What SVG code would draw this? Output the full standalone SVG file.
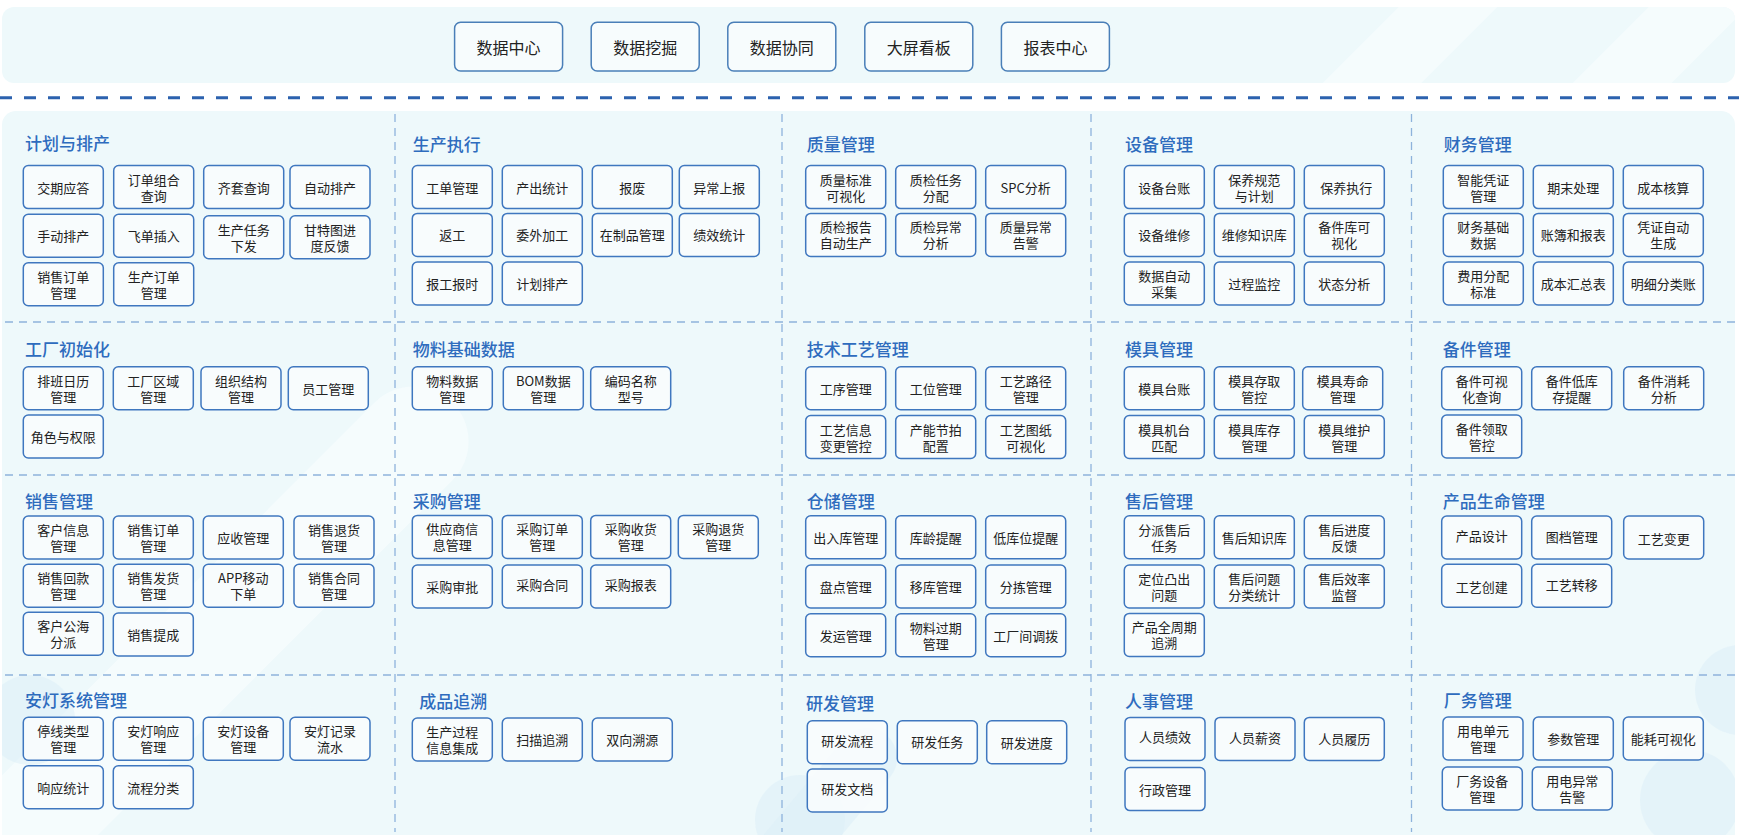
<svg xmlns="http://www.w3.org/2000/svg" width="1739" height="835" viewBox="0 0 1739 835">
<defs>
<style>
.bg{fill:#ffffff}
.panel{fill:#eef9fb}
.deco{fill:#f7fcfd;opacity:.75}
.deco2{fill:#ddeef7;opacity:.55}
.sep{stroke:#2c62ae;stroke-width:3;stroke-dasharray:12 12;fill:none}
.div{stroke:#8eb3dc;stroke-width:1.3;stroke-dasharray:8 6;fill:none}
.bx{fill:#f8fcfd;fill-opacity:.9;stroke:#3f77bf;stroke-width:1.5}
.tb{fill:#f7fcfd;stroke:#4a7fb8;stroke-width:1.5}
.t{font-family:"Noto Sans CJK SC","Noto Sans",sans-serif;font-size:13px;fill:#222;text-anchor:middle;dominant-baseline:central}
.tt{font-family:"Noto Sans CJK SC","Noto Sans",sans-serif;font-size:16px;fill:#222;text-anchor:middle;dominant-baseline:central}
.h{font-family:"Noto Sans CJK SC","Noto Sans",sans-serif;font-size:17px;font-weight:500;fill:#2e6cbe;dominant-baseline:central}
</style>
<clipPath id="cpTop"><rect x="2" y="7" width="1733" height="76" rx="12"/></clipPath>
<clipPath id="cpMain"><rect x="2" y="111" width="1733" height="740" rx="14"/></clipPath>
</defs>
<rect class="bg" x="0" y="0" width="1739" height="835"/>

<g id="background">
<rect class="panel" x="2" y="7" width="1733" height="76" rx="12"/>
<g clip-path="url(#cpTop)">
<rect class="deco" x="1390" y="-120" width="70" height="300" rx="35" transform="rotate(45 1425 30)"/>
<rect class="deco" x="1640" y="-120" width="70" height="300" rx="35" transform="rotate(45 1675 30)"/>
</g>
<rect class="panel" x="2" y="111" width="1733" height="740" rx="14"/>
<g clip-path="url(#cpMain)">
<rect class="deco" x="150" y="300" width="110" height="700" rx="55" transform="rotate(45 205 650)"/>
<circle class="deco2" cx="30" cy="720" r="45"/>
<circle class="deco2" cx="800" cy="820" r="45"/>
<rect class="deco2" x="760" y="700" width="60" height="300" rx="30" transform="rotate(40 790 850)"/>
<circle class="deco2" cx="1740" cy="690" r="45"/>
<circle class="deco2" cx="1690" cy="800" r="50"/>
</g>
</g>

<g id="separators">
<line class="sep" x1="0" y1="97.7" x2="1739" y2="97.7"/>
<line class="div" x1="395" y1="114" x2="395" y2="832"/>
<line class="div" x1="782" y1="114" x2="782" y2="832"/>
<line class="div" x1="1091" y1="114" x2="1091" y2="832"/>
<line class="div" x1="1411.5" y1="114" x2="1411.5" y2="832"/>
<line class="div" x1="5" y1="322" x2="1735" y2="322"/>
<line class="div" x1="5" y1="475" x2="1735" y2="475"/>
<line class="div" x1="5" y1="675" x2="1735" y2="675"/>
</g>

<g id="connectors"></g>

<g id="top-layer">
<g id="top-1"><rect class="tb" x="454.6" y="22.3" width="108" height="48.7" rx="6"/><text class="tt" x="508.6" y="46.6">数据中心</text></g>
<g id="top-2"><rect class="tb" x="591.2" y="22.3" width="108" height="48.7" rx="6"/><text class="tt" x="645.2" y="46.6">数据挖掘</text></g>
<g id="top-3"><rect class="tb" x="727.8" y="22.3" width="108" height="48.7" rx="6"/><text class="tt" x="781.8" y="46.6">数据协同</text></g>
<g id="top-4"><rect class="tb" x="864.8" y="22.3" width="108" height="48.7" rx="6"/><text class="tt" x="918.8" y="46.6">大屏看板</text></g>
<g id="top-5"><rect class="tb" x="1001.4" y="22.3" width="108" height="48.7" rx="6"/><text class="tt" x="1055.4" y="46.6">报表中心</text></g>
</g>

<!-- Section 1 -->
<g id="sec-plan">
<text class="h" x="25" y="142.5">计划与排产</text>
<g id="plan-1"><rect class="bx" x="23.3" y="165.6" width="80" height="43" rx="5"/><text class="t" x="63.3" y="187.1">交期应答</text></g>
<g id="plan-2"><rect class="bx" x="113.7" y="165.6" width="80" height="43" rx="5"/><text class="t" x="153.7" y="179.1">订单组合</text><text class="t" x="153.7" y="195.1">查询</text></g>
<g id="plan-3"><rect class="bx" x="203.7" y="165.6" width="80" height="43" rx="5"/><text class="t" x="243.7" y="187.1">齐套查询</text></g>
<g id="plan-4"><rect class="bx" x="290" y="165.6" width="80" height="43" rx="5"/><text class="t" x="330" y="187.1">自动排产</text></g>
<g id="plan-5"><rect class="bx" x="23.3" y="214.3" width="80" height="43" rx="5"/><text class="t" x="63.3" y="235.8">手动排产</text></g>
<g id="plan-6"><rect class="bx" x="113.7" y="214.3" width="80" height="43" rx="5"/><text class="t" x="153.7" y="235.8">飞单插入</text></g>
<g id="plan-7"><rect class="bx" x="203.7" y="215.7" width="80" height="43" rx="5"/><text class="t" x="243.7" y="229.2">生产任务</text><text class="t" x="243.7" y="245.2">下发</text></g>
<g id="plan-8"><rect class="bx" x="290" y="215.7" width="80" height="43" rx="5"/><text class="t" x="330" y="229.2">甘特图进</text><text class="t" x="330" y="245.2">度反馈</text></g>
<g id="plan-9"><rect class="bx" x="23.3" y="262.7" width="80" height="43" rx="5"/><text class="t" x="63.3" y="276.2">销售订单</text><text class="t" x="63.3" y="292.2">管理</text></g>
<g id="plan-10"><rect class="bx" x="113.7" y="262.7" width="80" height="43" rx="5"/><text class="t" x="153.7" y="276.2">生产订单</text><text class="t" x="153.7" y="292.2">管理</text></g>
</g>

<g id="sec-exec">
<text class="h" x="412.7" y="143">生产执行</text>
<g id="exec-1"><rect class="bx" x="412.3" y="165.6" width="80" height="43" rx="5"/><text class="t" x="452.3" y="187.1">工单管理</text></g>
<g id="exec-2"><rect class="bx" x="502.3" y="165.6" width="80" height="43" rx="5"/><text class="t" x="542.3" y="187.1">产出统计</text></g>
<g id="exec-3"><rect class="bx" x="592.3" y="165.6" width="80" height="43" rx="5"/><text class="t" x="632.3" y="187.1">报废</text></g>
<g id="exec-4"><rect class="bx" x="679.3" y="165.6" width="80" height="43" rx="5"/><text class="t" x="719.3" y="187.1">异常上报</text></g>
<g id="exec-5"><rect class="bx" x="412.3" y="213.4" width="80" height="43" rx="5"/><text class="t" x="452.3" y="234.9">返工</text></g>
<g id="exec-6"><rect class="bx" x="502.3" y="213.4" width="80" height="43" rx="5"/><text class="t" x="542.3" y="234.9">委外加工</text></g>
<g id="exec-7"><rect class="bx" x="592.3" y="213.4" width="80" height="43" rx="5"/><text class="t" x="632.3" y="234.9">在制品管理</text></g>
<g id="exec-8"><rect class="bx" x="679.3" y="213.4" width="80" height="43" rx="5"/><text class="t" x="719.3" y="234.9">绩效统计</text></g>
<g id="exec-9"><rect class="bx" x="412.3" y="262" width="80" height="43" rx="5"/><text class="t" x="452.3" y="283.5">报工报时</text></g>
<g id="exec-10"><rect class="bx" x="502.3" y="262" width="80" height="43" rx="5"/><text class="t" x="542.3" y="283.5">计划排产</text></g>
</g>

<g id="sec-quality">
<text class="h" x="806.7" y="143">质量管理</text>
<g id="qa-1"><rect class="bx" x="805.7" y="165.6" width="80" height="43" rx="5"/><text class="t" x="845.7" y="179.1">质量标准</text><text class="t" x="845.7" y="195.1">可视化</text></g>
<g id="qa-2"><rect class="bx" x="895.7" y="165.6" width="80" height="43" rx="5"/><text class="t" x="935.7" y="179.1">质检任务</text><text class="t" x="935.7" y="195.1">分配</text></g>
<g id="qa-3"><rect class="bx" x="985.7" y="165.6" width="80" height="43" rx="5"/><text class="t" x="1025.7" y="187.1">SPC分析</text></g>
<g id="qa-4"><rect class="bx" x="805.7" y="213.4" width="80" height="43" rx="5"/><text class="t" x="845.7" y="226.9">质检报告</text><text class="t" x="845.7" y="242.9">自动生产</text></g>
<g id="qa-5"><rect class="bx" x="895.7" y="213.4" width="80" height="43" rx="5"/><text class="t" x="935.7" y="226.9">质检异常</text><text class="t" x="935.7" y="242.9">分析</text></g>
<g id="qa-6"><rect class="bx" x="985.7" y="213.4" width="80" height="43" rx="5"/><text class="t" x="1025.7" y="226.9">质量异常</text><text class="t" x="1025.7" y="242.9">告警</text></g>
</g>

<g id="sec-equip">
<text class="h" x="1125" y="143">设备管理</text>
<g id="eq-1"><rect class="bx" x="1124.3" y="165.6" width="80" height="43" rx="5"/><text class="t" x="1164.3" y="187.1">设备台账</text></g>
<g id="eq-2"><rect class="bx" x="1214.3" y="165.6" width="80" height="43" rx="5"/><text class="t" x="1254.3" y="179.1">保养规范</text><text class="t" x="1254.3" y="195.1">与计划</text></g>
<g id="eq-3"><rect class="bx" x="1304.3" y="165.6" width="80" height="43" rx="5"/><text class="t" x="1346.3" y="187.1">保养执行</text></g>
<g id="eq-4"><rect class="bx" x="1124.3" y="213.4" width="80" height="43" rx="5"/><text class="t" x="1164.3" y="234.9">设备维修</text></g>
<g id="eq-5"><rect class="bx" x="1214.3" y="213.4" width="80" height="43" rx="5"/><text class="t" x="1254.3" y="234.9">维修知识库</text></g>
<g id="eq-6"><rect class="bx" x="1304.3" y="213.4" width="80" height="43" rx="5"/><text class="t" x="1344.3" y="226.9">备件库可</text><text class="t" x="1344.3" y="242.9">视化</text></g>
<g id="eq-7"><rect class="bx" x="1124.3" y="262" width="80" height="43" rx="5"/><text class="t" x="1164.3" y="275.5">数据自动</text><text class="t" x="1164.3" y="291.5">采集</text></g>
<g id="eq-8"><rect class="bx" x="1214.3" y="262" width="80" height="43" rx="5"/><text class="t" x="1254.3" y="283.5">过程监控</text></g>
<g id="eq-9"><rect class="bx" x="1304.3" y="262" width="80" height="43" rx="5"/><text class="t" x="1344.3" y="283.5">状态分析</text></g>
</g>

<g id="sec-finance">
<text class="h" x="1443.7" y="143">财务管理</text>
<g id="fin-1"><rect class="bx" x="1443.3" y="165.6" width="80" height="43" rx="5"/><text class="t" x="1483.3" y="179.1">智能凭证</text><text class="t" x="1483.3" y="195.1">管理</text></g>
<g id="fin-2"><rect class="bx" x="1533.3" y="165.6" width="80" height="43" rx="5"/><text class="t" x="1573.3" y="187.1">期末处理</text></g>
<g id="fin-3"><rect class="bx" x="1623.3" y="165.6" width="80" height="43" rx="5"/><text class="t" x="1663.3" y="187.1">成本核算</text></g>
<g id="fin-4"><rect class="bx" x="1443.3" y="213.4" width="80" height="43" rx="5"/><text class="t" x="1483.3" y="226.9">财务基础</text><text class="t" x="1483.3" y="242.9">数据</text></g>
<g id="fin-5"><rect class="bx" x="1533.3" y="213.4" width="80" height="43" rx="5"/><text class="t" x="1573.3" y="234.9">账簿和报表</text></g>
<g id="fin-6"><rect class="bx" x="1623.3" y="213.4" width="80" height="43" rx="5"/><text class="t" x="1663.3" y="226.9">凭证自动</text><text class="t" x="1663.3" y="242.9">生成</text></g>
<g id="fin-7"><rect class="bx" x="1443.3" y="262" width="80" height="43" rx="5"/><text class="t" x="1483.3" y="275.5">费用分配</text><text class="t" x="1483.3" y="291.5">标准</text></g>
<g id="fin-8"><rect class="bx" x="1533.3" y="262" width="80" height="43" rx="5"/><text class="t" x="1573.3" y="283.5">成本汇总表</text></g>
<g id="fin-9"><rect class="bx" x="1623.3" y="262" width="80" height="43" rx="5"/><text class="t" x="1663.3" y="283.5">明细分类账</text></g>
</g>

<!-- Section 2 -->
<g id="sec-init">
<text class="h" x="25" y="348">工厂初始化</text>
<g id="init-1"><rect class="bx" x="23.3" y="366.8" width="80" height="43" rx="5"/><text class="t" x="63.3" y="380.3">排班日历</text><text class="t" x="63.3" y="396.3">管理</text></g>
<g id="init-2"><rect class="bx" x="113.3" y="366.8" width="80" height="43" rx="5"/><text class="t" x="153.3" y="380.3">工厂区域</text><text class="t" x="153.3" y="396.3">管理</text></g>
<g id="init-3"><rect class="bx" x="201" y="366.8" width="80" height="43" rx="5"/><text class="t" x="241" y="380.3">组织结构</text><text class="t" x="241" y="396.3">管理</text></g>
<g id="init-4"><rect class="bx" x="288.3" y="366.8" width="80" height="43" rx="5"/><text class="t" x="328.3" y="388.3">员工管理</text></g>
<g id="init-5"><rect class="bx" x="23.3" y="415" width="80" height="43" rx="5"/><text class="t" x="63.3" y="436.5">角色与权限</text></g>
</g>

<g id="sec-material">
<text class="h" x="412.7" y="348">物料基础数据</text>
<g id="mat-1"><rect class="bx" x="412.3" y="366.8" width="80" height="43" rx="5"/><text class="t" x="452.3" y="380.3">物料数据</text><text class="t" x="452.3" y="396.3">管理</text></g>
<g id="mat-2"><rect class="bx" x="503.3" y="366.8" width="80" height="43" rx="5"/><text class="t" x="543.3" y="380.3">BOM数据</text><text class="t" x="543.3" y="396.3">管理</text></g>
<g id="mat-3"><rect class="bx" x="590.7" y="366.8" width="80" height="43" rx="5"/><text class="t" x="630.7" y="380.3">编码名称</text><text class="t" x="630.7" y="396.3">型号</text></g>
</g>

<g id="sec-tech">
<text class="h" x="806.7" y="348">技术工艺管理</text>
<g id="tech-1"><rect class="bx" x="805.7" y="366.8" width="80" height="43" rx="5"/><text class="t" x="845.7" y="388.3">工序管理</text></g>
<g id="tech-2"><rect class="bx" x="895.7" y="366.8" width="80" height="43" rx="5"/><text class="t" x="935.7" y="388.3">工位管理</text></g>
<g id="tech-3"><rect class="bx" x="985.7" y="366.8" width="80" height="43" rx="5"/><text class="t" x="1025.7" y="380.3">工艺路径</text><text class="t" x="1025.7" y="396.3">管理</text></g>
<g id="tech-4"><rect class="bx" x="805.7" y="415.5" width="80" height="43" rx="5"/><text class="t" x="845.7" y="429">工艺信息</text><text class="t" x="845.7" y="445">变更管控</text></g>
<g id="tech-5"><rect class="bx" x="895.7" y="415.5" width="80" height="43" rx="5"/><text class="t" x="935.7" y="429">产能节拍</text><text class="t" x="935.7" y="445">配置</text></g>
<g id="tech-6"><rect class="bx" x="985.7" y="415.5" width="80" height="43" rx="5"/><text class="t" x="1025.7" y="429">工艺图纸</text><text class="t" x="1025.7" y="445">可视化</text></g>
</g>

<g id="sec-mold">
<text class="h" x="1125" y="348">模具管理</text>
<g id="mold-1"><rect class="bx" x="1124.3" y="366.8" width="80" height="43" rx="5"/><text class="t" x="1164.3" y="388.3">模具台账</text></g>
<g id="mold-2"><rect class="bx" x="1214.3" y="366.8" width="80" height="43" rx="5"/><text class="t" x="1254.3" y="380.3">模具存取</text><text class="t" x="1254.3" y="396.3">管控</text></g>
<g id="mold-3"><rect class="bx" x="1302.7" y="366.8" width="80" height="43" rx="5"/><text class="t" x="1342.7" y="380.3">模具寿命</text><text class="t" x="1342.7" y="396.3">管理</text></g>
<g id="mold-4"><rect class="bx" x="1124.3" y="415.5" width="80" height="43" rx="5"/><text class="t" x="1164.3" y="429">模具机台</text><text class="t" x="1164.3" y="445">匹配</text></g>
<g id="mold-5"><rect class="bx" x="1214.3" y="415.5" width="80" height="43" rx="5"/><text class="t" x="1254.3" y="429">模具库存</text><text class="t" x="1254.3" y="445">管理</text></g>
<g id="mold-6"><rect class="bx" x="1304.3" y="415.5" width="80" height="43" rx="5"/><text class="t" x="1344.3" y="429">模具维护</text><text class="t" x="1344.3" y="445">管理</text></g>
</g>

<g id="sec-spare">
<text class="h" x="1442.7" y="348">备件管理</text>
<g id="sp-1"><rect class="bx" x="1441.7" y="366.8" width="80" height="43" rx="5"/><text class="t" x="1481.7" y="380.3">备件可视</text><text class="t" x="1481.7" y="396.3">化查询</text></g>
<g id="sp-2"><rect class="bx" x="1531.7" y="366.8" width="80" height="43" rx="5"/><text class="t" x="1571.7" y="380.3">备件低库</text><text class="t" x="1571.7" y="396.3">存提醒</text></g>
<g id="sp-3"><rect class="bx" x="1623.7" y="366.8" width="80" height="43" rx="5"/><text class="t" x="1663.7" y="380.3">备件消耗</text><text class="t" x="1663.7" y="396.3">分析</text></g>
<g id="sp-4"><rect class="bx" x="1441.7" y="415" width="80" height="43" rx="5"/><text class="t" x="1481.7" y="428.5">备件领取</text><text class="t" x="1481.7" y="444.5">管控</text></g>
</g>

<!-- Section 3 -->
<g id="sec-sales">
<text class="h" x="25" y="500">销售管理</text>
<g id="sal-1"><rect class="bx" x="23.3" y="516" width="80" height="43" rx="5"/><text class="t" x="63.3" y="529.5">客户信息</text><text class="t" x="63.3" y="545.5">管理</text></g>
<g id="sal-2"><rect class="bx" x="113.3" y="516" width="80" height="43" rx="5"/><text class="t" x="153.3" y="529.5">销售订单</text><text class="t" x="153.3" y="545.5">管理</text></g>
<g id="sal-3"><rect class="bx" x="203.3" y="516" width="80" height="43" rx="5"/><text class="t" x="243.3" y="537.5">应收管理</text></g>
<g id="sal-4"><rect class="bx" x="294" y="516" width="80" height="43" rx="5"/><text class="t" x="334" y="529.5">销售退货</text><text class="t" x="334" y="545.5">管理</text></g>
<g id="sal-5"><rect class="bx" x="23.3" y="564.3" width="80" height="43" rx="5"/><text class="t" x="63.3" y="577.8">销售回款</text><text class="t" x="63.3" y="593.8">管理</text></g>
<g id="sal-6"><rect class="bx" x="113.3" y="564.3" width="80" height="43" rx="5"/><text class="t" x="153.3" y="577.8">销售发货</text><text class="t" x="153.3" y="593.8">管理</text></g>
<g id="sal-7"><rect class="bx" x="203.3" y="564.3" width="80" height="43" rx="5"/><text class="t" x="243.3" y="577.8">APP移动</text><text class="t" x="243.3" y="593.8">下单</text></g>
<g id="sal-8"><rect class="bx" x="294" y="564.3" width="80" height="43" rx="5"/><text class="t" x="334" y="577.8">销售合同</text><text class="t" x="334" y="593.8">管理</text></g>
<g id="sal-9"><rect class="bx" x="23.3" y="612.3" width="80" height="43" rx="5"/><text class="t" x="63.3" y="625.8">客户公海</text><text class="t" x="63.3" y="641.8">分派</text></g>
<g id="sal-10"><rect class="bx" x="113.3" y="613" width="80" height="43" rx="5"/><text class="t" x="153.3" y="634.5">销售提成</text></g>
</g>

<g id="sec-purchase">
<text class="h" x="412.7" y="500">采购管理</text>
<g id="pur-1"><rect class="bx" x="412.3" y="515.4" width="80" height="43" rx="5"/><text class="t" x="452.3" y="528.9">供应商信</text><text class="t" x="452.3" y="544.9">息管理</text></g>
<g id="pur-2"><rect class="bx" x="502.3" y="515.4" width="80" height="43" rx="5"/><text class="t" x="542.3" y="528.9">采购订单</text><text class="t" x="542.3" y="544.9">管理</text></g>
<g id="pur-3"><rect class="bx" x="590.7" y="515.4" width="80" height="43" rx="5"/><text class="t" x="630.7" y="528.9">采购收货</text><text class="t" x="630.7" y="544.9">管理</text></g>
<g id="pur-4"><rect class="bx" x="678.3" y="515.4" width="80" height="43" rx="5"/><text class="t" x="718.3" y="528.9">采购退货</text><text class="t" x="718.3" y="544.9">管理</text></g>
<g id="pur-5"><rect class="bx" x="412.3" y="565" width="80" height="43" rx="5"/><text class="t" x="452.3" y="586.5">采购审批</text></g>
<g id="pur-6"><rect class="bx" x="502.3" y="565" width="80" height="43" rx="5"/><text class="t" x="542.3" y="584.5">采购合同</text></g>
<g id="pur-7"><rect class="bx" x="590.7" y="565" width="80" height="43" rx="5"/><text class="t" x="630.7" y="584.5">采购报表</text></g>
</g>

<g id="sec-storage">
<text class="h" x="806.7" y="500">仓储管理</text>
<g id="st-1"><rect class="bx" x="805.7" y="515.8" width="80" height="43" rx="5"/><text class="t" x="845.7" y="537.3">出入库管理</text></g>
<g id="st-2"><rect class="bx" x="895.7" y="515.8" width="80" height="43" rx="5"/><text class="t" x="935.7" y="537.3">库龄提醒</text></g>
<g id="st-3"><rect class="bx" x="985.7" y="515.8" width="80" height="43" rx="5"/><text class="t" x="1025.7" y="537.3">低库位提醒</text></g>
<g id="st-4"><rect class="bx" x="805.7" y="565" width="80" height="43" rx="5"/><text class="t" x="845.7" y="586.5">盘点管理</text></g>
<g id="st-5"><rect class="bx" x="895.7" y="565" width="80" height="43" rx="5"/><text class="t" x="935.7" y="586.5">移库管理</text></g>
<g id="st-6"><rect class="bx" x="985.7" y="565" width="80" height="43" rx="5"/><text class="t" x="1025.7" y="586.5">分拣管理</text></g>
<g id="st-7"><rect class="bx" x="805.7" y="613.8" width="80" height="43" rx="5"/><text class="t" x="845.7" y="635.3">发运管理</text></g>
<g id="st-8"><rect class="bx" x="895.7" y="613.8" width="80" height="43" rx="5"/><text class="t" x="935.7" y="627.3">物料过期</text><text class="t" x="935.7" y="643.3">管理</text></g>
<g id="st-9"><rect class="bx" x="985.7" y="613.8" width="80" height="43" rx="5"/><text class="t" x="1025.7" y="635.3">工厂间调拨</text></g>
</g>

<g id="sec-aftersale">
<text class="h" x="1125" y="500">售后管理</text>
<g id="as-1"><rect class="bx" x="1124.3" y="515.8" width="80" height="43" rx="5"/><text class="t" x="1164.3" y="529.3">分派售后</text><text class="t" x="1164.3" y="545.3">任务</text></g>
<g id="as-2"><rect class="bx" x="1214.3" y="515.8" width="80" height="43" rx="5"/><text class="t" x="1254.3" y="537.3">售后知识库</text></g>
<g id="as-3"><rect class="bx" x="1304.3" y="515.8" width="80" height="43" rx="5"/><text class="t" x="1344.3" y="529.3">售后进度</text><text class="t" x="1344.3" y="545.3">反馈</text></g>
<g id="as-4"><rect class="bx" x="1124.3" y="565" width="80" height="43" rx="5"/><text class="t" x="1164.3" y="578.5">定位凸出</text><text class="t" x="1164.3" y="594.5">问题</text></g>
<g id="as-5"><rect class="bx" x="1214.3" y="565" width="80" height="43" rx="5"/><text class="t" x="1254.3" y="578.5">售后问题</text><text class="t" x="1254.3" y="594.5">分类统计</text></g>
<g id="as-6"><rect class="bx" x="1304.3" y="565" width="80" height="43" rx="5"/><text class="t" x="1344.3" y="578.5">售后效率</text><text class="t" x="1344.3" y="594.5">监督</text></g>
<g id="as-7"><rect class="bx" x="1124.3" y="613.4" width="80" height="43" rx="5"/><text class="t" x="1164.3" y="626.9">产品全周期</text><text class="t" x="1164.3" y="642.9">追溯</text></g>
</g>

<g id="sec-lifecycle">
<text class="h" x="1442.7" y="500">产品生命管理</text>
<g id="lc-1"><rect class="bx" x="1441.7" y="516" width="80" height="43" rx="5"/><text class="t" x="1481.7" y="535.5">产品设计</text></g>
<g id="lc-2"><rect class="bx" x="1531.7" y="516" width="80" height="43" rx="5"/><text class="t" x="1571.7" y="536.5">图档管理</text></g>
<g id="lc-3"><rect class="bx" x="1623.7" y="516" width="80" height="43" rx="5"/><text class="t" x="1663.7" y="538.5">工艺变更</text></g>
<g id="lc-4"><rect class="bx" x="1441.7" y="564.3" width="80" height="43" rx="5"/><text class="t" x="1481.7" y="586.8">工艺创建</text></g>
<g id="lc-5"><rect class="bx" x="1531.7" y="564.3" width="80" height="43" rx="5"/><text class="t" x="1571.7" y="584.3">工艺转移</text></g>
</g>

<!-- Section 4 -->
<g id="sec-andon">
<text class="h" x="25" y="699">安灯系统管理</text>
<g id="an-1"><rect class="bx" x="23.3" y="717.3" width="80" height="43" rx="5"/><text class="t" x="63.3" y="730.8">停线类型</text><text class="t" x="63.3" y="746.8">管理</text></g>
<g id="an-2"><rect class="bx" x="113.3" y="717.3" width="80" height="43" rx="5"/><text class="t" x="153.3" y="730.8">安灯响应</text><text class="t" x="153.3" y="746.8">管理</text></g>
<g id="an-3"><rect class="bx" x="203.3" y="717.3" width="80" height="43" rx="5"/><text class="t" x="243.3" y="730.8">安灯设备</text><text class="t" x="243.3" y="746.8">管理</text></g>
<g id="an-4"><rect class="bx" x="290" y="717.3" width="80" height="43" rx="5"/><text class="t" x="330" y="730.8">安灯记录</text><text class="t" x="330" y="746.8">流水</text></g>
<g id="an-5"><rect class="bx" x="23.3" y="765.7" width="80" height="43" rx="5"/><text class="t" x="63.3" y="787.2">响应统计</text></g>
<g id="an-6"><rect class="bx" x="113.3" y="765.7" width="80" height="43" rx="5"/><text class="t" x="153.3" y="787.2">流程分类</text></g>
</g>

<g id="sec-trace">
<text class="h" x="419.3" y="700">成品追溯</text>
<g id="tr-1"><rect class="bx" x="412.3" y="718" width="80" height="43" rx="5"/><text class="t" x="452.3" y="731">生产过程</text><text class="t" x="452.3" y="747">信息集成</text></g>
<g id="tr-2"><rect class="bx" x="502.3" y="718" width="80" height="43" rx="5"/><text class="t" x="542.3" y="739.5">扫描追溯</text></g>
<g id="tr-3"><rect class="bx" x="592.3" y="718" width="80" height="43" rx="5"/><text class="t" x="632.3" y="739.5">双向溯源</text></g>
</g>

<g id="sec-rd">
<text class="h" x="806" y="702">研发管理</text>
<g id="rd-1"><rect class="bx" x="807.3" y="720.7" width="80" height="43" rx="5"/><text class="t" x="847.3" y="740.2">研发流程</text></g>
<g id="rd-2"><rect class="bx" x="897.3" y="720.7" width="80" height="43" rx="5"/><text class="t" x="937.3" y="741.2">研发任务</text></g>
<g id="rd-3"><rect class="bx" x="986.7" y="720.7" width="80" height="43" rx="5"/><text class="t" x="1026.7" y="742.2">研发进度</text></g>
<g id="rd-4"><rect class="bx" x="807.3" y="769" width="80" height="43" rx="5"/><text class="t" x="847.3" y="788.5">研发文档</text></g>
</g>

<g id="sec-hr">
<text class="h" x="1125" y="700">人事管理</text>
<g id="hr-1"><rect class="bx" x="1125" y="717.4" width="80" height="43" rx="5"/><text class="t" x="1165" y="736.9">人员绩效</text></g>
<g id="hr-2"><rect class="bx" x="1215" y="717.4" width="80" height="43" rx="5"/><text class="t" x="1255" y="737.9">人员薪资</text></g>
<g id="hr-3"><rect class="bx" x="1304.3" y="717.4" width="80" height="43" rx="5"/><text class="t" x="1344.3" y="738.9">人员履历</text></g>
<g id="hr-4"><rect class="bx" x="1125" y="767.6" width="80" height="43" rx="5"/><text class="t" x="1165" y="789.1">行政管理</text></g>
</g>

<g id="sec-facility">
<text class="h" x="1443.7" y="699">厂务管理</text>
<g id="fa-1"><rect class="bx" x="1443" y="717" width="80" height="43" rx="5"/><text class="t" x="1483" y="730.5">用电单元</text><text class="t" x="1483" y="746.5">管理</text></g>
<g id="fa-2"><rect class="bx" x="1533.3" y="717" width="80" height="43" rx="5"/><text class="t" x="1573.3" y="738.5">参数管理</text></g>
<g id="fa-3"><rect class="bx" x="1623.3" y="717" width="80" height="43" rx="5"/><text class="t" x="1663.3" y="738.5">能耗可视化</text></g>
<g id="fa-4"><rect class="bx" x="1442.3" y="767" width="80" height="43" rx="5"/><text class="t" x="1482.3" y="780.5">厂务设备</text><text class="t" x="1482.3" y="796.5">管理</text></g>
<g id="fa-5"><rect class="bx" x="1532.3" y="767" width="80" height="43" rx="5"/><text class="t" x="1572.3" y="780.5">用电异常</text><text class="t" x="1572.3" y="796.5">告警</text></g>
</g>
</svg>
